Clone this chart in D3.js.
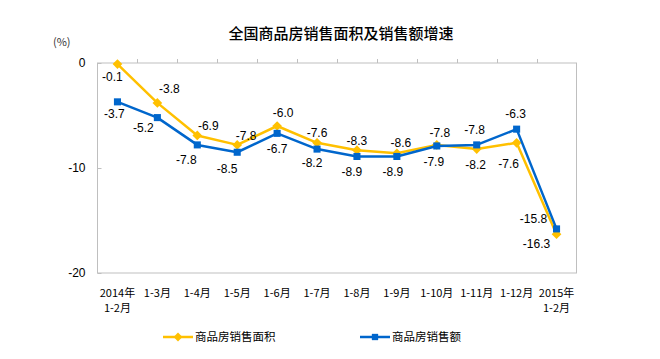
<!DOCTYPE html>
<html><head><meta charset="utf-8">
<script src="https://cdn.jsdelivr.net/npm/d3@7"></script>
<style>html,body{margin:0;padding:0;background:#fff;}svg{display:block;}</style>
</head><body>
<svg id="c" width="660" height="359"></svg>
<script>
const categories = [["2014年","1-2月"],["1-3月"],["1-4月"],["1-5月"],["1-6月"],["1-7月"],["1-8月"],["1-9月"],["1-10月"],["1-11月"],["1-12月"],["2015年","1-2月"]];
const areaGrowth = [-0.1,-3.8,-6.9,-7.8,-6.0,-7.6,-8.3,-8.6,-7.8,-8.2,-7.6,-16.3];
const valueGrowth = [-3.7,-5.2,-7.8,-8.5,-6.7,-8.2,-8.9,-8.9,-7.9,-7.8,-6.3,-15.8];
const yTicks = [0,-10,-20];
const seriesNames = ["商品房销售面积","商品房销售额"];
const title = "全国商品房销售面积及销售额增速";
const unitLabel = "(%)";

// label placement (pixel offsets of label centre from point)
const areaLabelOffsets = [[-5,13],[12,-14],[11,-10],[9,-9],[6,-13],[0,-10],[0,-9],[4,-11],[3,-12],[-1,16],[-8,21],[-20,10]];
const valueLabelOffsets = [[-3,12],[-14,10],[-11,15],[-10,16],[0,15],[-5,14],[-5,15],[-4,15],[-3,16],[-2,-15],[-1,-15],[-23,-10]];

const svg = d3.select("#c");
const L = 97.5, R = 576.5, T = 63, B = 273;
const x = d3.scaleBand().domain(d3.range(categories.length)).range([L, R]);
const y = d3.scaleLinear().domain([-20, 0]).range([B, T]);
const cx = i => x(i) + x.bandwidth()/2;
const YEL = "#FFC000", BLU = "#0066CC";
const cjk = "'Noto Sans CJK SC','Noto Sans',sans-serif";
const lat = "'Liberation Sans',Arial,sans-serif";
const hy = s => s.replace(/\u2212/g, "-");
const fmt1 = d => hy(d3.format(".1f")(d));

svg.append("text").attr("x", 341).attr("y", 39).attr("text-anchor","middle")
  .attr("font-family", cjk).attr("font-size", 15).attr("font-weight", 500).attr("fill","#000").text(title);
svg.append("text").attr("x", 53).attr("y", 46).attr("font-family", cjk).attr("font-size", 11).attr("fill","#333").text(unitLabel);

// plot border
svg.append("rect").attr("x", L).attr("y", T).attr("width", R-L).attr("height", B-T)
  .attr("fill","none").attr("stroke","#BFBFBF").attr("stroke-width",1);

// y axis
const yAxis = d3.axisLeft(y).tickValues(yTicks).tickSize(-4).tickPadding(12).tickFormat(d => hy(d3.format("d")(d)));
const ga = svg.append("g").attr("transform", `translate(${L},0)`).call(yAxis);
ga.select(".domain").remove();
ga.selectAll(".tick line").attr("stroke","#BFBFBF");
ga.selectAll(".tick text").attr("font-family", lat).attr("font-size", 12).attr("fill","#000").attr("x",-12);

// category ticks on top axis
const bounds = d3.range(1, categories.length);
svg.append("g").selectAll("line").data(bounds).join("line")
  .attr("x1", i => Math.round(x(i))+0.5).attr("x2", i => Math.round(x(i))+0.5)
  .attr("y1", T).attr("y2", T-4).attr("stroke","#BFBFBF");

// x labels
const xl = svg.append("g").attr("font-family", cjk).attr("font-size", 11).attr("fill","#000").attr("text-anchor","middle");
categories.forEach((c, i) => {
  c.forEach((s, j) => {
    xl.append("text").attr("x", cx(i)).attr("y", 297 + j*15).text(s);
  });
});

function drawSeries(vals, color, marker, offsets) {
  const line = d3.line().x((d,i) => cx(i)).y(d => y(d));
  svg.append("path").datum(vals).attr("d", line).attr("fill","none").attr("stroke", color).attr("stroke-width", 2.5).attr("stroke-linejoin","round");
  const sym = d3.symbol().type(marker === "diamond" ? d3.symbolDiamond2 : d3.symbolSquare).size(marker === "diamond" ? 60 : 50);
  svg.append("g").selectAll("path").data(vals).join("path")
    .attr("transform", (d,i) => `translate(${cx(i)},${y(d)})`).attr("d", sym).attr("fill", color);
  svg.append("g").selectAll("text").data(vals).join("text")
    .attr("x", (d,i) => cx(i) + offsets[i][0]).attr("y", (d,i) => y(d) + offsets[i][1])
    .attr("dy", "0.36em").attr("text-anchor","middle").attr("font-family", lat).attr("font-size", 12).attr("fill","#000")
    .text(d => fmt1(d));
}
drawSeries(areaGrowth, YEL, "diamond", areaLabelOffsets);
drawSeries(valueGrowth, BLU, "square", valueLabelOffsets);

// legend
const leg = [{name: seriesNames[0], color: YEL, marker: "diamond", x: 163}, {name: seriesNames[1], color: BLU, marker: "square", x: 360}];
leg.forEach(l => {
  const ly = 337;
  svg.append("line").attr("x1", l.x).attr("x2", l.x+30).attr("y1", ly).attr("y2", ly).attr("stroke", l.color).attr("stroke-width", 2.5);
  svg.append("path").attr("transform", `translate(${l.x+15},${ly})`)
    .attr("d", d3.symbol().type(l.marker === "diamond" ? d3.symbolDiamond2 : d3.symbolSquare).size(l.marker === "diamond" ? 50 : 40)).attr("fill", l.color);
  svg.append("text").attr("x", l.x+32).attr("y", ly).attr("dy","0.36em").attr("font-family", cjk).attr("font-size", 11.5).attr("fill","#000").text(l.name);
});
</script>
</body></html>
